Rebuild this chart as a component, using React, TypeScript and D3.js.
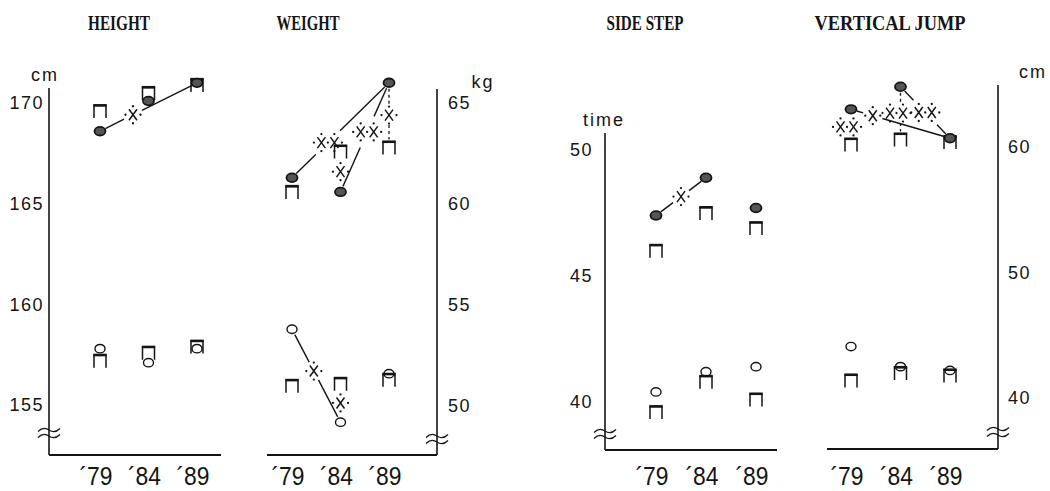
import React from "react";
import * as d3 from "d3";

const years = ["79", "84", "89"];

// HEIGHT (cm)
const heightMaleGroup = [168.6, 170.1, 171.0];
const heightMaleNational = [169.6, 170.5, 170.9];
const heightFemaleGroup = [157.8, 157.1, 157.8];
const heightFemaleNational = [157.2, 157.6, 157.9];
const heightTicks = [155, 160, 165, 170];

// WEIGHT (kg)
const weightMaleGroup = [61.3, 60.6, 66.0];
const weightMaleNational = [60.6, 62.6, 62.8];
const weightFemaleGroup = [53.8, 49.2, 51.6];
const weightFemaleNational = [51.0, 51.1, 51.3];
const weightTicks = [50, 55, 60, 65];

// SIDE STEP (times)
const sideMaleGroup = [47.4, 48.9, 47.7];
const sideMaleNational = [46.0, 47.5, 46.9];
const sideFemaleGroup = [40.4, 41.2, 41.4];
const sideFemaleNational = [39.6, 40.8, 40.1];
const sideTicks = [40, 45, 50];

// VERTICAL JUMP (cm)
const jumpMaleGroup = [63.0, 64.8, 60.7];
const jumpMaleNational = [60.2, 60.6, 60.4];
const jumpFemaleGroup = [44.1, 42.5, 42.2];
const jumpFemaleNational = [41.4, 42.0, 41.8];
const jumpTicks = [40, 50, 60];

// significant changes between years (level 1 = X, level 2 = XX), at = where the mark sits on the line
const heightTrends = [{ sex: "male", from: 0, to: 2, level: 1, at: 0.34 }];
const weightTrends = [
  { sex: "male", from: 0, to: 2, level: 2, at: 0.37 },
  { sex: "male", from: 1, to: 2, level: 2, at: 0.55 },
  { sex: "female", from: 0, to: 1, level: 1, at: 0.45 },
];
const sideTrends = [{ sex: "male", from: 0, to: 1, level: 1, at: 0.5 }];
const jumpTrends = [
  { sex: "male", from: 0, to: 2, level: 1, at: 0.22 },
  { sex: "male", from: 1, to: 2, level: 2, at: 0.5 },
];

// significant differences group vs national in one year
const heightDiffs: any[] = [];
const weightDiffs = [
  { sex: "male", year: 1, level: 1, dashed: false },
  { sex: "male", year: 2, level: 1, dashed: true },
  { sex: "female", year: 1, level: 1, dashed: false },
];
const sideDiffs: any[] = [];
const jumpDiffs = [
  { sex: "male", year: 0, level: 2, dashed: false },
  { sex: "male", year: 1, level: 2, dashed: true },
];

const INK = "#151515";
const SANS = "'Liberation Sans', Arial, sans-serif";

const panels = [
  {
    title: "HEIGHT", titleX: 119, titleW: 62, unit: "cm", unitX: 45, unitY: 81,
    side: "left", axisX: 49, x0: 49, x1: 221, top: 88, bottom: 455, breakY: 433,
    markX: [100, 197], yDomain: [155, 170], yRange: [405, 103], tickX: 44,
    ticks: heightTicks, maleGroup: heightMaleGroup, maleNat: heightMaleNational,
    femaleGroup: heightFemaleGroup, femaleNat: heightFemaleNational,
    trends: heightTrends, diffs: heightDiffs,
  },
  {
    title: "WEIGHT", titleX: 308, titleW: 63, unit: "kg", unitX: 483, unitY: 88,
    side: "right", axisX: 437, x0: 267, x1: 437, top: 89, bottom: 455, breakY: 439,
    markX: [292, 389], yDomain: [50, 65], yRange: [406, 103], tickX: 448,
    ticks: weightTicks, maleGroup: weightMaleGroup, maleNat: weightMaleNational,
    femaleGroup: weightFemaleGroup, femaleNat: weightFemaleNational,
    trends: weightTrends, diffs: weightDiffs,
  },
  {
    title: "SIDE STEP", titleX: 645, titleW: 77, unit: "time", unitX: 604, unitY: 126,
    side: "left", axisX: 605, x0: 605, x1: 777, top: 133, bottom: 450, breakY: 434,
    markX: [656, 756], yDomain: [40, 50], yRange: [402, 150], tickX: 593,
    ticks: sideTicks, maleGroup: sideMaleGroup, maleNat: sideMaleNational,
    femaleGroup: sideFemaleGroup, femaleNat: sideFemaleNational,
    trends: sideTrends, diffs: sideDiffs,
  },
  {
    title: "VERTICAL JUMP", titleX: 890, titleW: 151, unit: "cm", unitX: 1033, unitY: 78,
    side: "right", axisX: 998, x0: 827, x1: 998, top: 85, bottom: 449, breakY: 432,
    markX: [851, 950], yDomain: [40, 60], yRange: [398, 147], tickX: 1008,
    ticks: jumpTicks, maleGroup: jumpMaleGroup, maleNat: jumpMaleNational,
    femaleGroup: jumpFemaleGroup, femaleNat: jumpFemaleNational,
    trends: jumpTrends, diffs: jumpDiffs,
  },
];

const Bracket = ({ x, y }: { x: number; y: number }) => (
  <g>
    <path d={`M${x - 6},${y + 7}V${y - 5.5}H${x + 6}V${y + 7}`} fill="none" stroke={INK} strokeWidth={1.5} />
    <rect x={x - 6.7} y={y - 7} width={13.4} height={2.6} fill={INK} />
  </g>
);

const SigMark = ({ x, y, level }: { x: number; y: number; level: number }) => {
  const centers = level === 2 ? [x - 6.5, x + 6.5] : [x];
  const dots: number[][] = [];
  centers.forEach((c) => dots.push([c, y - 8.5], [c, y + 8.5]));
  dots.push([centers[0] - 7.5, y], [centers[centers.length - 1] + 7.5, y]);
  if (level === 2) dots.push([x, y]);
  return (
    <g>
      {centers.map((c, i) => (
        <path key={i} d={`M${c - 4},${y - 5.5}L${c + 4},${y + 5.5}M${c + 4},${y - 5.5}L${c - 4},${y + 5.5}`}
          stroke={INK} strokeWidth={1.5} />
      ))}
      {dots.map(([dx, dy], i) => <circle key={"d" + i} cx={dx} cy={dy} r={1.15} fill={INK} />)}
    </g>
  );
};

function brokenLine(p0: number[], p1: number[], at: number, half: number) {
  const dx = p1[0] - p0[0], dy = p1[1] - p0[1];
  const L = Math.hypot(dx, dy);
  const ux = dx / L, uy = dy / L;
  const pt = (s: number) => `${p0[0] + ux * s},${p0[1] + uy * s}`;
  const c = at * L;
  const segs: string[] = [];
  if (c - half > 6) segs.push(`M${pt(6)}L${pt(c - half)}`);
  if (L - 6 > c + half) segs.push(`M${pt(c + half)}L${pt(L - 6)}`);
  return segs.join("");
}

const tilde = (x: number, y: number) => {
  const w = 11;
  const wave = (o: number) =>
    `M${x - w},${y + o + 1.5}Q${x - w / 2},${y + o - 4} ${x},${y + o}T${x + w},${y + o - 1.5}`;
  return wave(-3) + wave(3);
};

function Panel({ p }: { p: any }) {
  const x = d3.scalePoint<string>().domain(years).range(p.markX);
  const y = d3.scaleLinear().domain(p.yDomain).range(p.yRange);
  const series = (sex: string) => (sex === "male" ? p.maleGroup : p.femaleGroup);
  const nats = (sex: string) => (sex === "male" ? p.maleNat : p.femaleNat);

  return (
    <g>
      <text x={p.titleX} y={30} textAnchor="middle" fontFamily="'Liberation Serif', serif" fontWeight={600}
        fontSize={21} textLength={p.titleW} lengthAdjust="spacingAndGlyphs" fill={INK}>{p.title}</text>

      {/* axes */}
      <line x1={p.axisX} x2={p.axisX} y1={p.top} y2={p.bottom} stroke={INK} strokeWidth={1.6} />
      <line x1={p.x0} x2={p.x1} y1={p.bottom} y2={p.bottom} stroke={INK} strokeWidth={2} />
      <path d={tilde(p.axisX, p.breakY)} fill="none" stroke={INK} strokeWidth={1.3} />

      {p.ticks.map((t: number) => (
        <text key={t} x={p.tickX} y={y(t)} dy="0.36em" textAnchor={p.side === "left" ? "end" : "start"}
          fontFamily={SANS} fontSize={18} letterSpacing={1.5} fill={INK}>{t}</text>
      ))}
      <text x={p.unitX} y={p.unitY} textAnchor="middle" fontFamily={SANS} fontSize={18} letterSpacing={2} fill={INK}>
        {p.unit}
      </text>

      {years.map((yr) => (
        <text key={yr} x={(x(yr) as number) - 4} y={485} textAnchor="middle" fontFamily={SANS} fontSize={26}
          textLength={33} lengthAdjust="spacingAndGlyphs" fill={INK}>
          <tspan>´</tspan>{yr}
        </text>
      ))}

      {/* national reference */}
      {["male", "female"].map((sex) =>
        nats(sex).map((v: number, i: number) => <Bracket key={sex + i} x={x(years[i]) as number} y={y(v)} />)
      )}

      {/* group means */}
      {p.maleGroup.map((v: number, i: number) => (
        <ellipse key={"m" + i} cx={x(years[i])} cy={y(v)} rx={5.5} ry={4.3} fill="#555" stroke={INK} strokeWidth={1.8} />
      ))}
      {p.femaleGroup.map((v: number, i: number) => (
        <ellipse key={"f" + i} cx={x(years[i])} cy={y(v)} rx={5} ry={4.2} fill="none" stroke={INK} strokeWidth={1.4} />
      ))}

      {/* trends */}
      {p.trends.map((tr: any, i: number) => {
        const s = series(tr.sex);
        const a = [x(years[tr.from]) as number, y(s[tr.from])];
        const b = [x(years[tr.to]) as number, y(s[tr.to])];
        const sx = a[0] + (b[0] - a[0]) * tr.at;
        const sy = a[1] + (b[1] - a[1]) * tr.at;
        return (
          <g key={"t" + i}>
            <path d={brokenLine(a, b, tr.at, tr.level === 2 ? 17 : 10)} fill="none" stroke={INK} strokeWidth={1.4} />
            <SigMark x={sx} y={sy} level={tr.level} />
          </g>
        );
      })}

      {/* group vs national */}
      {p.diffs.map((d: any, i: number) => {
        const cx = x(years[d.year]) as number;
        const yg = y(series(d.sex)[d.year]);
        const yn = y(nats(d.sex)[d.year]);
        const mid = (yg + yn) / 2;
        const dir = yn > yg ? 1 : -1;
        return (
          <g key={"d" + i}>
            {d.dashed && (
              <path d={`M${cx},${yg + dir * 6}L${cx},${mid - dir * 10}M${cx},${mid + dir * 10}L${cx},${yn - dir * 8}`}
                stroke={INK} strokeWidth={1.3} strokeDasharray="3,3" />
            )}
            <SigMark x={d.level === 2 ? cx - 4 : cx} y={mid} level={d.level} />
          </g>
        );
      })}
    </g>
  );
}

export default function App() {
  return (
    <svg width={1050} height={491} style={{ position: "absolute", left: 0, top: 0, background: "#fff" }}>
      {panels.map((p) => <Panel key={p.title} p={p} />)}
    </svg>
  );
}
